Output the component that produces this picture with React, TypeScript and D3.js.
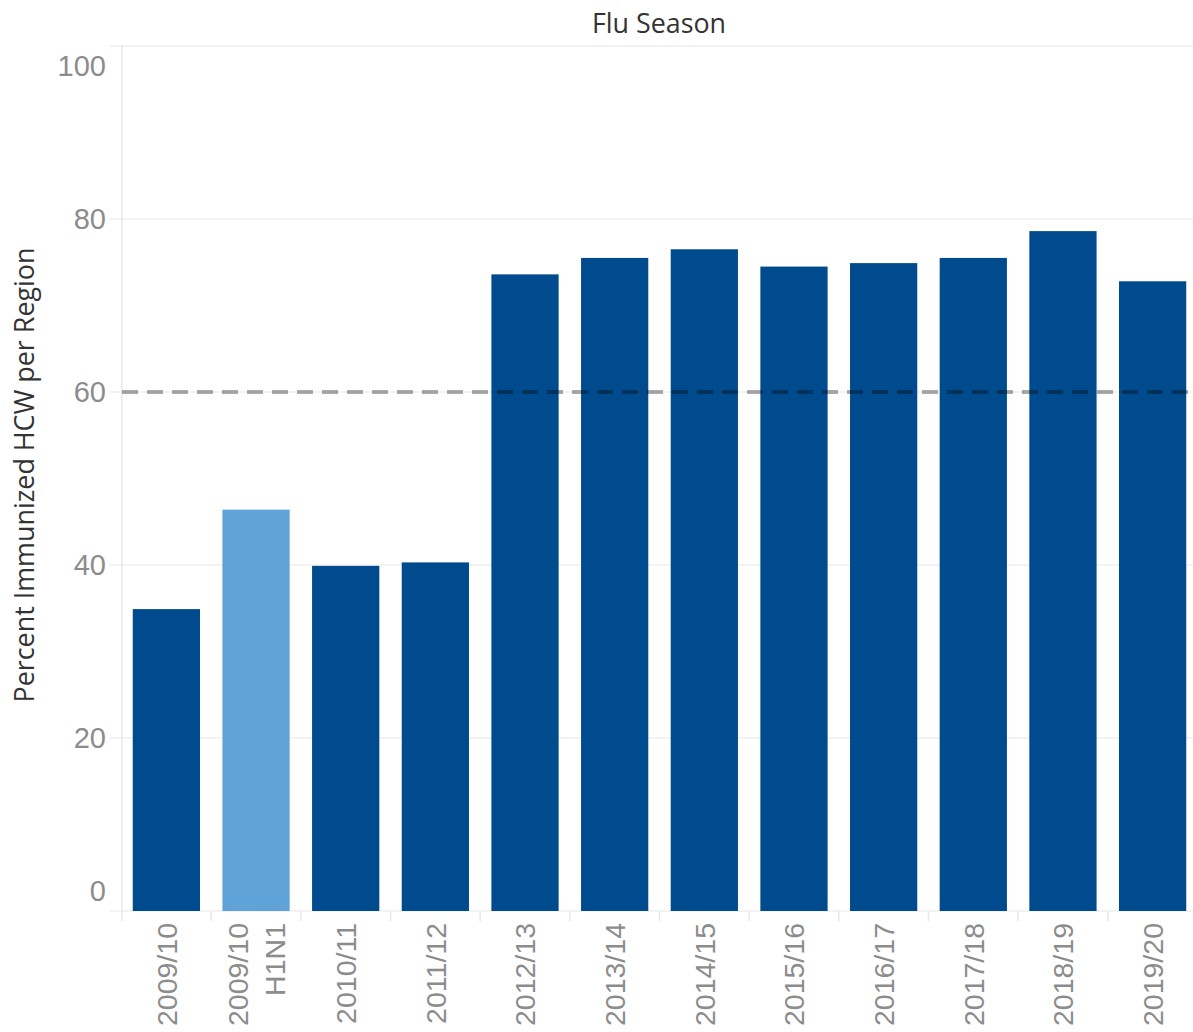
import React from "react";
import * as d3 from "d3";

const categories = ["2009/10", "2009/10\nH1N1", "2010/11", "2011/12", "2012/13", "2013/14", "2014/15", "2015/16", "2016/17", "2017/18", "2018/19", "2019/20"];
const values = [34.9, 46.4, 39.9, 40.3, 73.6, 75.5, 76.5, 74.5, 74.9, 75.5, 78.6, 72.8];
const highlighted = [false, true, false, false, false, false, false, false, false, false, false, false];
const targetValue = 60;
const yTicks = [0, 20, 40, 60, 80, 100];
const title = "Flu Season";
const yTitle = "Percent Immunized HCW per Region";

const W = 1193;
const H = 1032;
const left = 122;
const right = 1197;
const top = 46;
const bottom = 911;

export default function App() {
  const x = d3.scaleBand<string>().domain(categories).range([left, right]).paddingInner(0.25).paddingOuter(0.12);
  const y = d3.scaleLinear().domain([0, 100]).range([bottom, top]);
  const step = x.step();
  const tickFont = "'Liberation Sans', Arial, sans-serif";
  const titleFont = "'Open Sans', 'Noto Sans', sans-serif";
  const boundaries = categories.map((c) => (x(c) as number) - (step - x.bandwidth()) / 2);
  return (
    <svg width={W} height={H} style={{ position: "absolute", left: 0, top: 0, background: "#fff" }}>
      <text x={659} y={33} textAnchor="middle" fontFamily={titleFont} fontSize={27} fill="#333" textLength={134} lengthAdjust="spacingAndGlyphs">{title}</text>
      {yTicks.map((t) => (
        <g key={t}>
          <line x1={110} x2={right} y1={y(t)} y2={y(t)} stroke="#efefef" strokeWidth={1.5} />
          <text
            x={106}
            y={y(t) + (t === 100 ? 20 : t === 0 ? -20 : 0)}
            dy="0.36em"
            textAnchor="end"
            fontFamily={tickFont}
            fontSize={29}
            fill="#8c8c8c"
          >{t}</text>
        </g>
      ))}
      <line x1={left} x2={left} y1={top - 1} y2={bottom + 10} stroke="#e8e8e8" strokeWidth={1.5} />
      {boundaries.slice(1).map((b, i) => (
        <line key={i} x1={b} x2={b} y1={bottom} y2={bottom + 10} stroke="#e8e8e8" strokeWidth={1.5} />
      ))}
      {categories.map((c, i) => (
        <rect
          key={c}
          x={x(c)}
          y={y(values[i])}
          width={x.bandwidth()}
          height={bottom - y(values[i])}
          fill={highlighted[i] ? "#5fa3d9" : "#004b8d"}
        />
      ))}
      <line
        x1={left}
        x2={right}
        y1={y(targetValue)}
        y2={y(targetValue)}
        stroke="#000"
        strokeOpacity={0.33}
        strokeWidth={4}
        strokeDasharray="16 9"
      />
      {categories.map((c) => {
        const lines = c.split("\n");
        const cx = (x(c) as number) + x.bandwidth() / 2;
        const lh = 37;
        return (
          <g key={c}>
            {lines.map((ln, j) => {
              const lx = cx + (j - (lines.length - 1) / 2) * lh;
              return (
                <text
                  key={j}
                  transform={`translate(${lx},923) rotate(-90)`}
                  dy="0.36em"
                  textAnchor="end"
                  fontFamily={tickFont}
                  fontSize={28.5}
                  fill="#8c8c8c"
                >{ln}</text>
              );
            })}
          </g>
        );
      })}
      <text
        transform={`translate(24,475) rotate(-90)`}
        dy="0.36em"
        textAnchor="middle"
        fontFamily={titleFont}
        fontSize={27}
        fill="#333"
        textLength={455}
        lengthAdjust="spacingAndGlyphs"
      >{yTitle}</text>
    </svg>
  );
}
